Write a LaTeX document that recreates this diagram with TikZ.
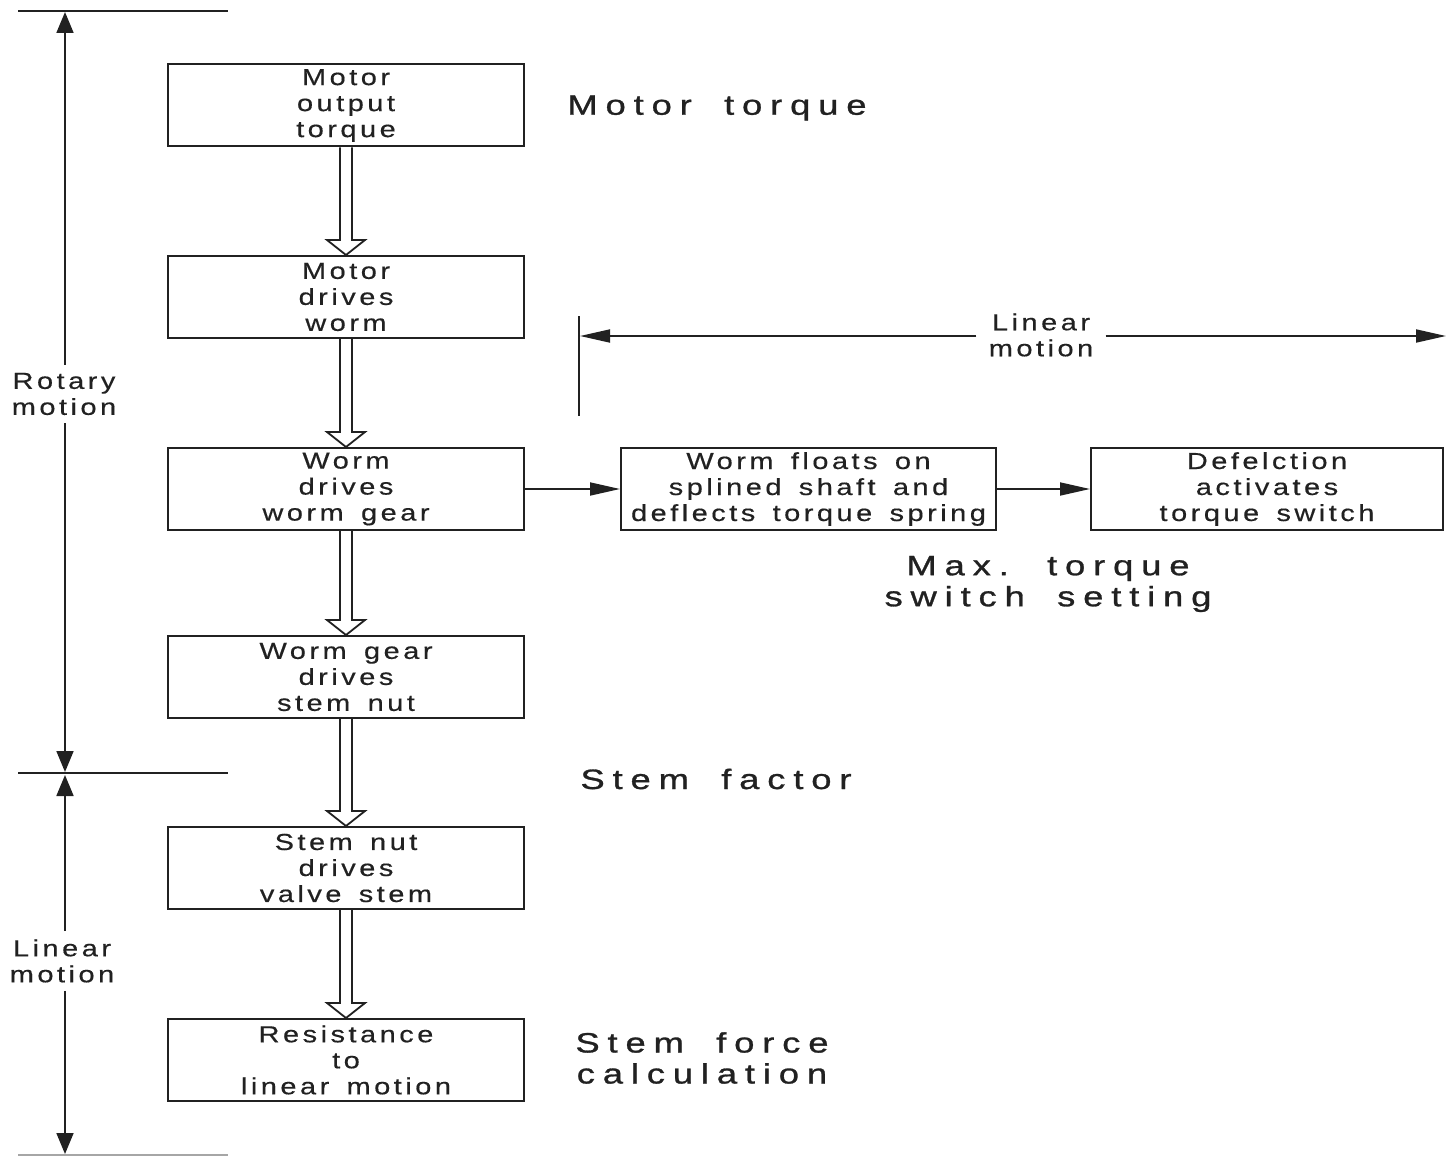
\documentclass[tikz,border=0pt]{standalone}
\usepackage{fontspec}
\setmainfont{Liberation Sans}[FakeStretch=1.25, LetterSpace=15, WordSpace=1.5, FakeBold=0.4]
\newfontfamily\bigfont{Liberation Sans}[FakeStretch=1.3, LetterSpace=28, WordSpace=1.8, FakeBold=1]
\usetikzlibrary{arrows.meta,calc}
\definecolor{ink}{rgb}{0.13,0.13,0.13}
\newcommand{\boxfont}{\fontsize{11.6}{13}\selectfont}
\newcommand{\labfont}{\bigfont\fontsize{14}{15.5}\selectfont}
\newcommand{\hollowarr}[2]{\draw[ink, line width=0.9pt, fill=white, line join=miter]
 ($(#1.south)+(-6,0)$) -- ($(#2.north)+(-6,-15)$) -- ($(#2.north)+(-19,-15)$) -- (#2.north)
 -- ($(#2.north)+(19,-15)$) -- ($(#2.north)+(6,-15)$) -- ($(#1.south)+(6,0)$);}
\begin{document}
\begin{tikzpicture}[x=0.5pt,y=-0.5pt,
  every node/.style={text=ink},
  box/.style={draw=ink, line width=1pt, fill=white, inner sep=0pt, align=center,
    font=\boxfont, minimum height=41pt, minimum width=178pt},
  lab/.style={align=center, font=\boxfont, inner xsep=6pt, inner ysep=4pt},
  biglab/.style={align=center, font=\labfont, inner sep=0pt},
  dim/.style={draw=ink, line width=0.9pt},
  vtip/.tip={Triangle[length=10.5pt,width=8.5pt]},
  htip/.tip={Triangle[length=15pt,width=6.5pt]}]
\useasboundingbox (0,0) rectangle (1446,1156);

% main column
\node[box] (b1) at (346,105.5) {Motor\\output\\torque};
\node[box] (b2) at (346,297) {Motor\\drives\\worm};
\node[box] (b3) at (346,489) {Worm\\drives\\worm gear};
\node[box] (b4) at (346,677) {Worm gear\\drives\\stem nut};
\node[box] (b5) at (346,868) {Stem nut\\drives\\valve stem};
\node[box] (b6) at (346,1060) {Resistance\\to\\linear motion};

% right branch
\node[box, minimum width=187.5pt] (r1) at (808.5,489) {Worm floats on\\splined shaft and\\deflects torque spring};
\node[box, minimum width=176pt] (r2) at (1267,489) {Defelction\\activates\\torque switch};

\hollowarr{b1}{b2}
\hollowarr{b2}{b3}
\hollowarr{b3}{b4}
\hollowarr{b4}{b5}
\hollowarr{b5}{b6}

\draw[dim,-{htip}] (b3.east) -- (r1.west);
\draw[dim,-{htip}] (r1.east) -- (r2.west);

% big labels
\node[biglab] (mt) at (717,108) {Motor torque};
\node[biglab] (mx) at (1048,584) {Max. torque\\switch setting};
\node[biglab] (sf) at (716,779) {Stem factor};
\node[biglab] (sc) at (702,1058) {Stem force\\calculation};

% left dimension lines
\coordinate (topL) at (18,11); \coordinate (topR) at (228,11);
\coordinate (midL) at (18,773); \coordinate (midR) at (228,773);
\coordinate (botL) at (18,1155); \coordinate (botR) at (228,1155);
\draw[dim] (topL) -- (topR);
\draw[dim] (midL) -- (midR);
\draw[dim, draw=ink!40] (botL) -- (botR);
\coordinate (ta) at (65,12);
\coordinate (ma) at (65,772);
\coordinate (mb) at (65,775);
\coordinate (ba) at (65,1154);
\node[lab] (rot) at (64,394) {Rotary\\motion};
\node[lab] (lin1) at (62,961) {Linear\\motion};
\draw[dim,-{vtip}] (rot.north -| ta) -- (ta);
\draw[dim,-{vtip}] (rot.south -| ma) -- (ma);
\draw[dim,-{vtip}] (lin1.north -| mb) -- (mb);
\draw[dim,-{vtip}] (lin1.south -| ba) -- (ba);

% right dimension line
\coordinate (vb1) at (579,316); \coordinate (vb2) at (579,416);
\coordinate (la) at (580,336); \coordinate (lb) at (1446,336);
\draw[dim] (vb1) -- (vb2);
\node[lab] (lin2) at (1041,335) {Linear\\motion};
\draw[dim,-{htip}] (lin2.west |- la) -- (la);
\draw[dim,-{htip}] (lin2.east |- lb) -- (lb);
\end{tikzpicture}
\end{document}
